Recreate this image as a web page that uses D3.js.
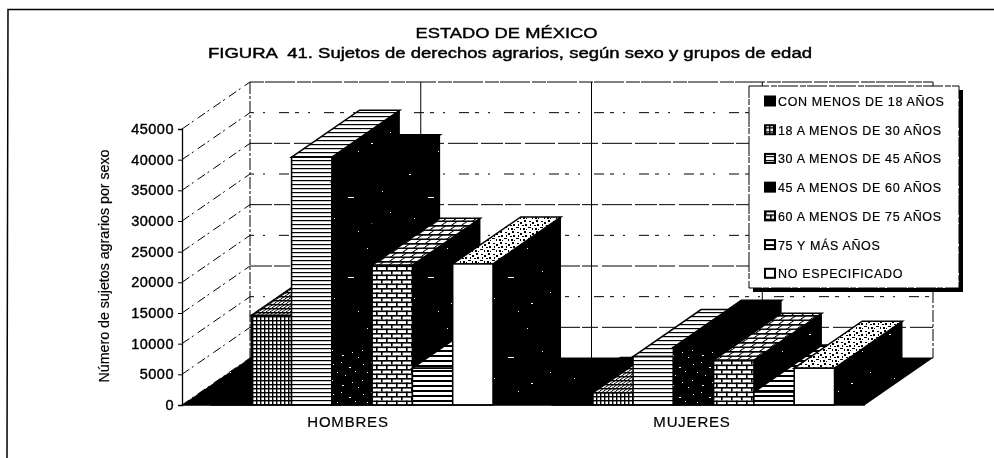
<!DOCTYPE html>
<html>
<head>
<meta charset="utf-8">
<script src="https://cdn.jsdelivr.net/npm/d3@7"></script>
<style>
  html, body { margin: 0; padding: 0; background: #fff; }
  svg { display: block; filter: blur(0.35px); }
  text { font-family: "Liberation Sans", Arial, sans-serif; fill: #000; stroke: #000; stroke-width: 0.2px; }
</style>
</head>
<body>
<div id="chart"></div>
<script>
var sexos = ["HOMBRES", "MUJERES"];
var grupos = ["CON MENOS DE 18 AÑOS", "18 A MENOS DE 30 AÑOS", "30 A MENOS DE 45 AÑOS",
              "45 A MENOS DE 60 AÑOS", "60 A MENOS DE 75 AÑOS", "75 Y MÁS AÑOS", "NO ESPECIFICADO"];
var hombres = [300, 14600, 40400, 36400, 22800, 6000, 23000];
var mujeres = [100, 2000, 7900, 9400, 7300, 2100, 6000];
var ticks = [0, 5000, 10000, 15000, 20000, 25000, 30000, 35000, 40000, 45000];

var width = 994, height = 458;
// profundidad del falso 3D
var dx = 68, dy = 47;

var svg = d3.select("#chart").append("svg")
  .attr("width", width)
  .attr("height", height);

var x0 = d3.scaleBand().domain(sexos).range([182, 865]);
var x1 = d3.scaleBand().domain(grupos).range([29, 311]);
var y = d3.scaleLinear().domain([0, 45000]).range([405, 129]);

// --- tramas ---
var defs = svg.append("defs");

function trama(id, w, h, fondo, skew) {
  var p = defs.append("pattern")
    .attr("id", id)
    .attr("patternUnits", "userSpaceOnUse")
    .attr("width", w)
    .attr("height", h);
  if (skew) p.attr("patternTransform", "skewX(-55.3)");
  p.append("rect").attr("width", w).attr("height", h).attr("fill", fondo);
  return p;
}

function rects(p, lista, color) {
  lista.forEach(function(r) {
    p.append("rect").attr("x", r[0]).attr("y", r[1]).attr("width", r[2]).attr("height", r[3]).attr("fill", color);
  });
}

var ralas = [[9,14,2,1],[47,8,1,1],[28,37,6,1],[62,31,1,1],[14,58,1,1],[51,63,2,1],[38,71,1,1],[70,52,1,1]];
var densas = [[3,4,1,1],[11,2,1,1],[19,7,2,1],[7,12,1,1],[15,15,1,1],[25,11,1,1],[2,20,1,1],[22,22,1,1],[12,25,2,1],[28,27,1,1]];
var granos = [[1,1,2,1],[4,2,2,2],[8,0,2,2],[2,4,1,2],[6,5,2,1],[9,4,2,2],[0,7,3,1],[4,8,1,2],[7,8,2,2],[10,9,1,1]];

[false, true].forEach(function(skew) {
  var s = skew ? "Top" : "";
  var rejilla = trama("rejilla" + s, 4, 4, "#fff", skew);
  rects(rejilla, [[0,0,1.4,4],[0,0,4,1.4]], "#000");
  var ladrillo = trama("ladrillo" + s, 10, 9, "#fff", skew);
  rects(ladrillo, [[0,0,10,1.6],[0,4.5,10,1.6],[1,0,1.6,4.5],[6,4.5,1.6,4.5]], "#000");
});
rects(trama("lineas", 4, 4, "#fff"), [[0,0,4,1.2]], "#000");
rects(trama("lineasAnchas", 4, 5, "#fff"), [[0,0,4,2]], "#000");
rects(trama("ralas", 80, 80, "#000"), ralas, "#fff");
rects(trama("motas", 30, 30, "#000"), densas, "#fff");
rects(trama("grano", 12, 11, "#fff"), granos, "#000");

// relleno de cada serie: frontal y superior
var frente = ["#000", "url(#rejilla)", "url(#lineas)", "url(#ralas)", "url(#ladrillo)", "url(#lineasAnchas)", "#fff"];
var arriba = ["#000", "url(#rejillaTop)", "url(#lineas)", "#000", "url(#ladrilloTop)", "url(#lineasAnchas)", "url(#grano)"];

// --- muro del fondo ---
var muro = svg.append("g").attr("fill", "none").attr("stroke", "#000");

ticks.forEach(function(t, i) {
  var dash = t == 45000 ? "14 1 30 2" : (i % 2 == 0 ? "4 9 2 14 10 6" : "22 2 16 4 30 3");
  muro.append("line")
    .attr("x1", 182 + dx).attr("x2", 865 + dx)
    .attr("y1", y(t) - dy).attr("y2", y(t) - dy)
    .attr("stroke-dasharray", t == 0 ? null : dash);
  muro.append("line")
    .attr("x1", 182).attr("x2", 182 + dx)
    .attr("y1", y(t)).attr("y2", y(t) - dy)
    .attr("stroke-dasharray", "9 3 2 5");
});

// verticales del muro: cada media categoria
var cortes = [0, 0.25, 0.5, 0.75, 1];
cortes.forEach(function(c, i) {
  var px = 182 + c * (x0.range()[1] - 182) + dx;
  muro.append("line")
    .attr("x1", px).attr("x2", px)
    .attr("y1", y(45000) - dy).attr("y2", y(0) - dy)
    .attr("stroke-dasharray", (i == 1 || i == 2) ? null : "12 2 3 2");
});

// piso
svg.append("path")
  .attr("d", d3.line()([[x0.range()[0], y(0)], [x0.range()[0] + dx, y(0) - dy], [x0.range()[1] + dx, y(0) - dy], [x0.range()[1], y(0)]]) + "Z")
  .attr("fill", "url(#ralas)");

// --- barras, de izquierda a derecha para que tapen bien ---
function barra(sexo, serie, valor) {
  var g = svg.append("g").attr("class", "barra");
  var a = x0(sexo) + x1(grupos[serie]);
  var b = a + x1.bandwidth();
  var t = y(valor), base = y(0);
  var cara = d3.line();

  g.append("path")
    .attr("d", cara([[b, base], [b + dx, base - dy], [b + dx, t - dy], [b, t]]) + "Z")
    .attr("fill", "url(#ralas)");
  g.append("path")
    .attr("d", cara([[a, t], [a + dx, t - dy], [b + dx, t - dy], [b, t]]) + "Z")
    .attr("fill", arriba[serie])
    .attr("stroke", "#000")
    .attr("stroke-width", 1.5);
  g.append("rect")
    .attr("x", a).attr("y", t)
    .attr("width", b - a).attr("height", base - t)
    .attr("fill", frente[serie])
    .attr("stroke", "#000")
    .attr("stroke-width", 1.5);
  // la trama de 45-60 se ve mas cerrada abajo
  if (serie == 3) {
    g.append("rect")
      .attr("x", a).attr("y", Math.max(t, y(9500)))
      .attr("width", b - a).attr("height", base - Math.max(t, y(9500)))
      .attr("fill", "url(#motas)");
  }
}

hombres.forEach(function(v, i) { barra("HOMBRES", i, v); });
mujeres.forEach(function(v, i) { barra("MUJERES", i, v); });

// --- ejes ---
var ejeY = svg.append("g")
  .attr("transform", "translate(182,0)")
  .call(d3.axisLeft(y).tickValues(ticks).tickSize(4).tickPadding(4).tickFormat(d3.format("d")));
ejeY.select(".domain").attr("stroke", "#000").attr("stroke-width", 1.3);
ejeY.selectAll("text")
  .style("font-family", "Liberation Sans")
  .style("font-size", "14.5px")
  .style("letter-spacing", "0.5px")
  .style("stroke", "#000")
  .style("stroke-width", "0.4px");

svg.append("line")
  .attr("x1", 182).attr("x2", 865)
  .attr("y1", y(0)).attr("y2", y(0))
  .attr("stroke", "#000").attr("stroke-width", 1.5);

var centros = [348, 692];
svg.selectAll(".cat")
  .data(sexos)
  .enter().append("text")
  .attr("class", "cat")
  .attr("x", function(d, i) { return centros[i]; })
  .attr("y", 427)
  .attr("text-anchor", "middle")
  .style("font-size", "15px")
  .style("letter-spacing", "0.8px")
  .text(function(d) { return d; });

svg.append("text")
  .attr("transform", "translate(109,266) rotate(-90)")
  .attr("text-anchor", "middle")
  .attr("textLength", 233)
  .attr("lengthAdjust", "spacingAndGlyphs")
  .style("font-size", "14px")
  .text("Número de sujetos agrarios por sexo");

// --- titulos ---
svg.append("text")
  .attr("x", 506.5).attr("y", 38)
  .attr("text-anchor", "middle")
  .attr("textLength", 182)
  .attr("lengthAdjust", "spacingAndGlyphs")
  .style("font-size", "15.5px")
  .style("stroke-width", "0.4px")
  .text("ESTADO DE MÉXICO");

svg.append("text")
  .attr("x", 510).attr("y", 58)
  .attr("text-anchor", "middle")
  .attr("textLength", 604)
  .attr("lengthAdjust", "spacingAndGlyphs")
  .style("font-size", "15.5px")
  .style("white-space", "pre")
  .style("stroke-width", "0.45px")
  .text("FIGURA  41. Sujetos de derechos agrarios, según sexo y grupos de edad");

// --- marco ---
svg.append("path")
  .attr("d", d3.line()([[7, height], [8, 9.5], [width, 9.5]]))
  .attr("fill", "none")
  .attr("stroke", "#000")
  .attr("stroke-width", 1.5);

// --- leyenda ---
var leyenda = svg.append("g").attr("transform", "translate(749,86)");
leyenda.append("rect").attr("x", 4).attr("y", 4).attr("width", 210).attr("height", 202).attr("fill", "#000");
leyenda.append("rect").attr("width", 210).attr("height", 202)
  .attr("fill", "#fff").attr("stroke", "#000").attr("stroke-dasharray", "20 2 6 1");

var fila = d3.scaleBand().domain(grupos).range([4.5, 205.5]);
var items = leyenda.selectAll(".leg")
  .data(grupos)
  .enter().append("g")
  .attr("class", "leg")
  .attr("transform", function(d) { return "translate(0," + fila(d) + ")"; });

items.append("rect")
  .attr("x", 16).attr("y", 6)
  .attr("width", 10).attr("height", 9)
  .attr("fill", function(d, i) { return frente[i]; })
  .attr("stroke", "#000").attr("stroke-width", 2);

items.append("text")
  .attr("x", 29).attr("y", 15.5)
  .style("font-size", "12.5px")
  .style("letter-spacing", "0.65px")
  .text(function(d) { return d; });
</script>
</body>
</html>
